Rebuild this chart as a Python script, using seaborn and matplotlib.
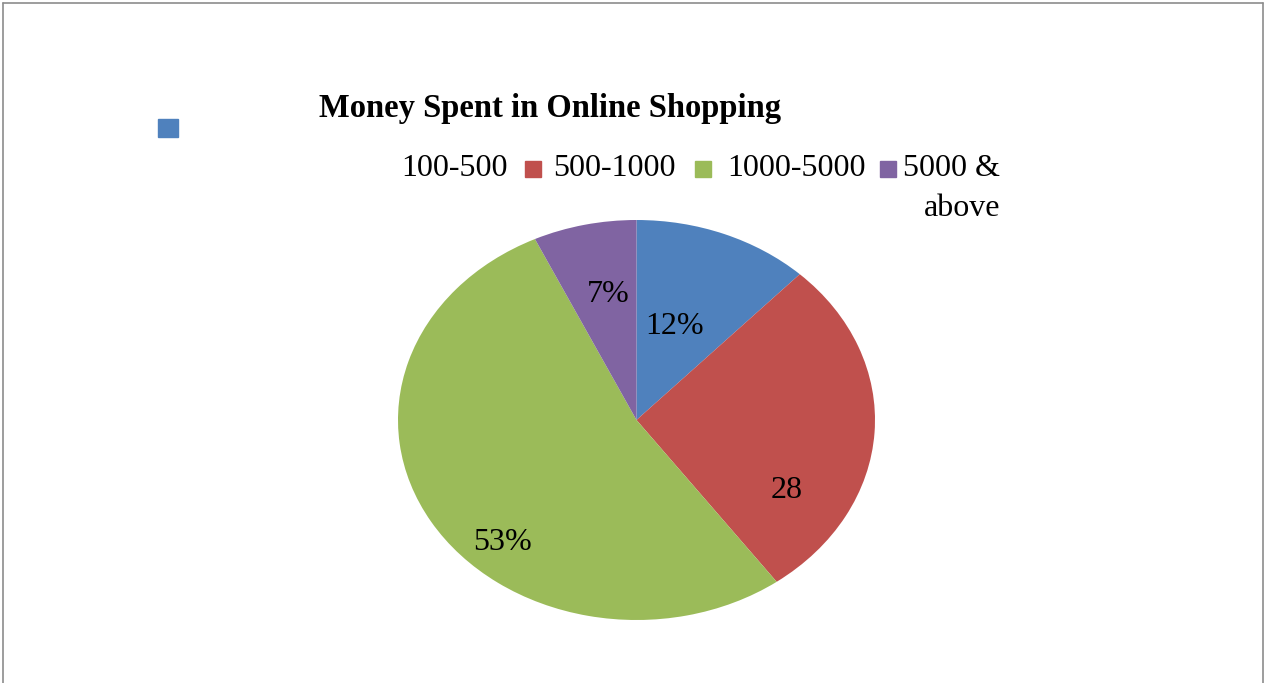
import matplotlib
matplotlib.use("Agg")
import matplotlib.pyplot as plt
from matplotlib.patches import Rectangle
from matplotlib.lines import Line2D
import seaborn as sns

# data
categories = ["100-500", "500-1000", "1000-5000", "5000 &\nabove"]
shares = [12, 28, 53, 7]
slice_labels = ["12%", "28", "53%", "7%"]
colors = ["#4F81BD", "#C0504D", "#9BBB59", "#8064A2"]

sns.set_theme(style="white")
plt.rcParams["font.family"] = ["Liberation Serif", "DejaVu Serif"]
plt.rcParams["text.color"] = "black"

W, H = 1267, 683
fig = plt.figure(figsize=(W / 100, H / 100), dpi=100)
fig.patch.set_facecolor("white")

# outer frame (open at the bottom)
frame_kw = dict(color="#8c8c8c", lw=1.2, transform=fig.transFigure)
fig.add_artist(Line2D([3 / W, 3 / W], [0, 1 - 3 / H], **frame_kw))
fig.add_artist(Line2D([3 / W, 1263 / W], [1 - 3 / H, 1 - 3 / H], **frame_kw))
fig.add_artist(Line2D([1263 / W, 1263 / W], [0, 1 - 3 / H], **frame_kw))

# pie (stretched into an ellipse like the original)
ax = fig.add_axes([398 / W, 63 / H, 477 / W, 400 / H])
wedges, texts = ax.pie(shares, colors=colors, startangle=90, counterclock=False,
                       labels=slice_labels, labeldistance=0.5,
                       wedgeprops=dict(linewidth=0),
                       textprops=dict(fontsize=23, color="black"))
ax.set_aspect("auto")
ax.set_xlim(-1, 1)
ax.set_ylim(-1, 1)
ax.axis("off")

# label positions as placed in the original (axes fraction of ellipse)
label_pos = [(0.16, 0.47), (0.63, -0.35), (-0.56, -0.61), (-0.12, 0.63)]
for t, (x, y) in zip(texts, label_pos):
    t.set_position((x, y))
    t.set_ha("center")
    t.set_va("center")

# title
fig.text(550 / W, 1 - 108 / H, "Money Spent in Online Shopping",
         fontsize=23.5, fontweight="bold", ha="center", va="center", color="black")

# legend, laid out as in the source
sq = 16
fig.add_artist(Rectangle((158 / W, 1 - 137 / H), 20 / W, 18 / H,
                         color=colors[0], transform=fig.transFigure))
text_y = 1 - 169 / H
fig.text(401 / W, text_y, categories[0], fontsize=23, ha="left", va="center", color="black")
for x0, col, lab, tx in [(525, colors[1], categories[1], 553),
                         (695, colors[2], categories[2], 727),
                         (880, colors[3], None, None)]:
    fig.add_artist(Rectangle((x0 / W, 1 - 177 / H), sq / W, sq / H,
                             color=col, transform=fig.transFigure))
    if lab:
        fig.text(tx / W, text_y, lab, fontsize=23, ha="left", va="center", color="black")
fig.text(1000 / W, text_y, "5000 &", fontsize=23, ha="right", va="center", color="black")
fig.text(1000 / W, 1 - 208 / H, "above", fontsize=23, ha="right", va="center", color="black")

fig.savefig("out.png", dpi=100, facecolor="white")
